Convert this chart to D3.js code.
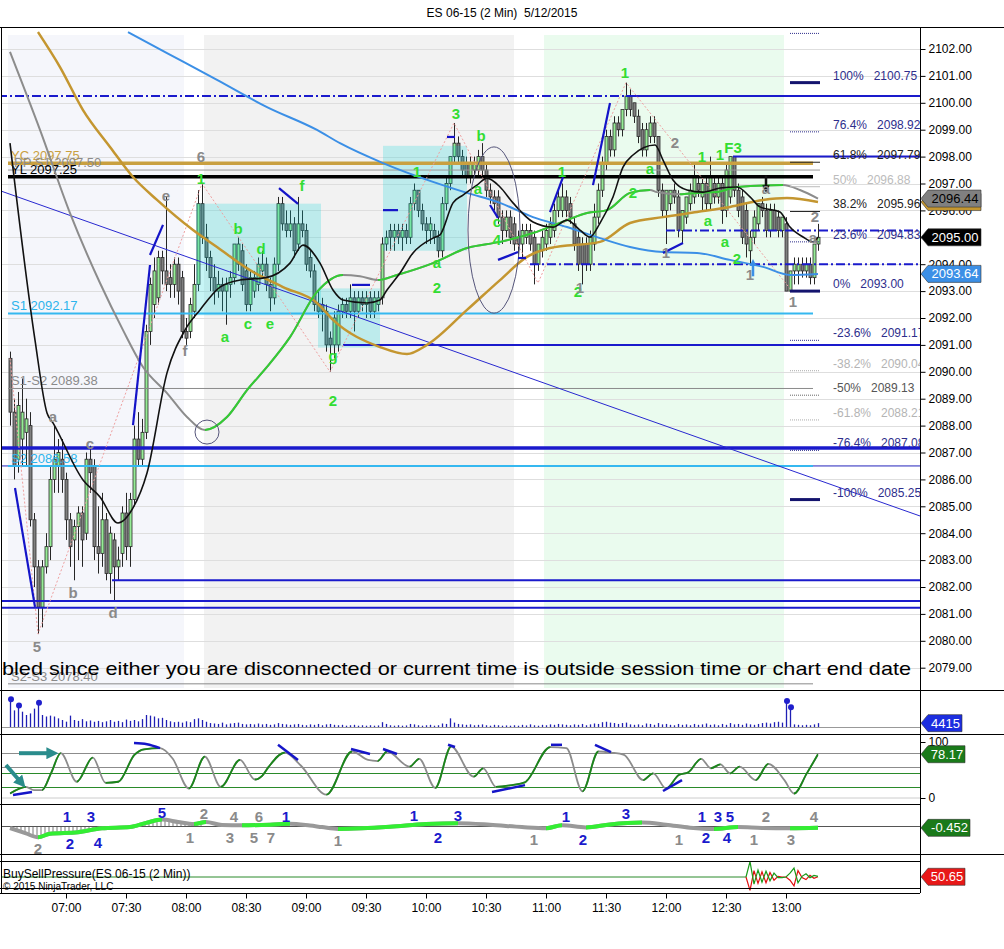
<!DOCTYPE html>
<html>
<head>
<meta charset="utf-8">
<title>ES 06-15 (2 Min) 5/12/2015</title>
<script src="https://cdnjs.cloudflare.com/ajax/libs/d3/7.8.5/d3.min.js"></script>
<style>
  body { margin: 0; background: #fff; }
  svg { display: block; font-family: "Liberation Sans", Arial, sans-serif; }
</style>
</head>
<body>
<svg id="chart" width="1004" height="949"></svg>
<script>
// ---------------- data ----------------
const firstBar = "06:32";
const lastBar = "13:16";
const timeTicks = ["07:00", "07:30", "08:00", "08:30", "09:00", "09:30", "10:00", "10:30", "11:00", "11:30", "12:00", "12:30", "13:00"];
const priceTicks = [2079, 2080, 2081, 2082, 2083, 2084, 2085, 2086, 2087, 2088, 2089, 2090,
  2091, 2092, 2093, 2094, 2095, 2096, 2097, 2098, 2099, 2100, 2101, 2102];

const opens = [
  2090.5, 2088.5, 2086.75, 2087.5, 2087.75, 2088.0, 2084.5, 2082.75, 2081.25, 2082.75,
  2083.5, 2086.0, 2086.5, 2086.75, 2086.0, 2084.5, 2083.75, 2084.25, 2084.75, 2084.0,
  2086.75, 2086.5, 2083.5, 2083.25, 2084.5, 2082.5, 2083.75, 2082.75, 2083.25, 2084.75,
  2083.5, 2085.25, 2087.5, 2086.75, 2087.75, 2091.5, 2092.5, 2092.75, 2094.25, 2093.75,
  2093.5, 2093.25, 2094.0, 2093.5, 2091.5, 2091.5, 2092.25, 2093.25, 2096.25, 2095.0,
  2094.25, 2093.5, 2093.0, 2093.25, 2093.0, 2093.25, 2093.5, 2094.0, 2094.5, 2093.75,
  2092.5, 2093.0, 2093.25, 2093.75, 2094.0, 2093.25, 2092.75, 2094.0, 2096.25, 2095.5,
  2095.25, 2095.5, 2094.75, 2095.5, 2095.25, 2094.25, 2093.75, 2092.5, 2092.5, 2092.25,
  2091.25, 2091.0, 2091.0, 2092.25, 2092.5, 2092.25, 2092.75, 2092.25, 2092.75, 2092.5,
  2092.75, 2092.25, 2092.5, 2092.75, 2094.75, 2095.25, 2095.0, 2095.25, 2095.0, 2095.25,
  2095.0, 2096.25, 2096.75, 2096.0, 2095.5, 2095.25, 2095.25, 2095.0, 2094.5, 2096.25,
  2097.0, 2098.0, 2098.5, 2098.0, 2097.75, 2097.25, 2097.5, 2097.5, 2098.0, 2097.5,
  2096.75, 2096.5, 2096.5, 2095.75, 2095.25, 2095.75, 2095.5, 2095.0, 2094.75, 2095.0,
  2095.25, 2095.0, 2094.0, 2094.5, 2094.75, 2095.0, 2095.25, 2096.0, 2096.0, 2096.5,
  2096.25, 2095.5, 2095.0, 2094.75, 2094.75, 2094.0, 2094.75, 2095.75, 2096.75, 2097.75,
  2098.75, 2098.25, 2099.25, 2099.0, 2099.75, 2100.25, 2100.0, 2099.5, 2099.0, 2098.25,
  2098.75, 2099.25, 2098.75, 2096.75, 2096.0, 2096.25, 2096.75, 2096.5, 2095.25, 2095.75,
  2096.25, 2096.5, 2097.0, 2096.5, 2097.0, 2096.25, 2097.0, 2096.5, 2097.0, 2096.0,
  2096.5, 2098.0, 2096.75, 2096.5, 2096.0, 2094.5, 2095.0, 2095.5, 2096.25, 2096.0,
  2095.25, 2096.0, 2095.75, 2095.25, 2095.5, 2093.0, 2093.75, 2093.75, 2094.0, 2093.75,
  2094.0, 2093.5, 2094.75
];
const highs = [
  2090.75, 2089.0, 2089.25, 2089.75, 2089.0, 2088.5, 2084.75, 2083.0, 2083.0, 2084.0,
  2086.5, 2088.0, 2087.5, 2087.5, 2086.25, 2084.75, 2084.5, 2085.0, 2085.0, 2087.0,
  2087.25, 2086.75, 2085.0, 2085.5, 2084.75, 2084.25, 2084.0, 2083.5, 2085.0, 2085.5,
  2085.5, 2088.0, 2088.5, 2088.25, 2091.75, 2093.5, 2094.25, 2094.5, 2094.5, 2096.5,
  2094.0, 2094.25, 2094.25, 2093.75, 2092.0, 2092.75, 2094.0, 2096.75, 2097.0, 2095.5,
  2094.5, 2094.0, 2093.75, 2093.5, 2093.5, 2093.75, 2094.75, 2095.0, 2094.75, 2094.0,
  2093.75, 2093.75, 2094.25, 2094.5, 2094.25, 2093.5, 2094.25, 2096.5, 2096.5, 2096.0,
  2096.0, 2095.75, 2096.5, 2096.0, 2095.5, 2094.5, 2094.0, 2093.0, 2092.75, 2092.5,
  2091.5, 2092.25, 2092.5, 2092.75, 2092.75, 2093.25, 2093.0, 2093.0, 2093.0, 2093.0,
  2093.0, 2093.0, 2093.0, 2095.0, 2095.25, 2095.5, 2095.5, 2095.5, 2095.5, 2095.5,
  2096.5, 2097.0, 2096.75, 2096.25, 2095.75, 2095.75, 2095.5, 2095.25, 2096.5, 2097.25,
  2098.0, 2099.25, 2098.75, 2098.25, 2098.0, 2098.0, 2098.0, 2098.25, 2098.5, 2097.75,
  2097.0, 2096.75, 2096.75, 2096.0, 2096.0, 2096.0, 2095.75, 2095.25, 2095.5, 2095.5,
  2095.5, 2095.25, 2094.75, 2095.25, 2095.5, 2095.75, 2096.25, 2096.75, 2097.0, 2096.75,
  2096.5, 2095.75, 2095.25, 2095.0, 2095.0, 2095.25, 2096.25, 2097.0, 2098.0, 2099.0,
  2099.0, 2099.5, 2099.5, 2099.75, 2100.75, 2100.5, 2100.0, 2099.75, 2099.25, 2099.25,
  2099.5, 2099.5, 2098.75, 2097.0, 2096.75, 2096.75, 2097.0, 2096.75, 2096.0, 2096.5,
  2097.0, 2097.75, 2097.25, 2097.25, 2097.25, 2098.0, 2097.25, 2097.25, 2097.25, 2097.75,
  2098.0, 2098.0, 2097.0, 2096.75, 2096.25, 2095.25, 2096.0, 2096.25, 2096.5, 2096.25,
  2096.25, 2096.25, 2096.0, 2095.75, 2095.75, 2093.75, 2094.25, 2094.25, 2094.25, 2094.25,
  2094.25, 2094.75, 2095.5
];
const lows = [
  2088.0, 2086.0, 2086.25, 2086.5, 2086.5, 2084.25, 2082.0, 2080.25, 2080.5, 2082.5,
  2083.0, 2085.5, 2085.5, 2085.5, 2083.75, 2082.75, 2082.25, 2083.0, 2082.75, 2083.75,
  2085.5, 2083.0, 2082.5, 2082.75, 2082.25, 2081.75, 2081.5, 2082.25, 2082.75, 2083.0,
  2082.75, 2085.0, 2086.5, 2086.5, 2087.5, 2091.0, 2092.0, 2092.5, 2093.25, 2093.0,
  2092.75, 2092.75, 2092.5, 2091.25, 2091.0, 2091.25, 2092.0, 2093.0, 2094.75, 2093.75,
  2093.0, 2092.5, 2092.75, 2092.25, 2091.75, 2092.75, 2093.25, 2093.75, 2093.0, 2092.25,
  2092.25, 2092.75, 2093.0, 2093.5, 2093.0, 2092.25, 2092.5, 2093.75, 2095.25, 2095.0,
  2095.0, 2094.25, 2094.5, 2095.0, 2093.75, 2093.5, 2092.25, 2092.0, 2091.5, 2090.75,
  2090.0, 2090.5, 2090.75, 2092.0, 2092.0, 2092.0, 2091.5, 2092.0, 2092.25, 2092.0,
  2092.0, 2092.0, 2092.25, 2092.5, 2094.5, 2094.5, 2094.5, 2094.75, 2094.5, 2094.75,
  2094.75, 2096.0, 2095.75, 2095.25, 2094.75, 2094.75, 2094.75, 2094.25, 2094.25, 2096.0,
  2096.75, 2097.75, 2097.75, 2097.25, 2097.0, 2097.0, 2097.25, 2097.25, 2097.25, 2096.5,
  2096.25, 2096.0, 2095.5, 2094.75, 2095.0, 2094.75, 2094.5, 2094.25, 2094.25, 2094.75,
  2094.5, 2093.25, 2093.75, 2094.25, 2094.5, 2094.75, 2095.0, 2095.75, 2095.75, 2095.75,
  2095.5, 2094.5, 2093.75, 2093.25, 2093.75, 2093.75, 2094.5, 2095.5, 2096.5, 2097.5,
  2098.0, 2098.0, 2098.75, 2098.75, 2099.5, 2099.5, 2099.25, 2098.5, 2098.0, 2098.0,
  2098.5, 2098.5, 2096.5, 2095.75, 2094.75, 2096.0, 2096.25, 2095.0, 2094.75, 2095.5,
  2096.0, 2096.25, 2096.5, 2096.0, 2096.0, 2096.0, 2096.25, 2096.25, 2095.5, 2095.75,
  2096.25, 2096.5, 2095.75, 2094.75, 2094.25, 2094.0, 2094.75, 2095.25, 2095.75, 2095.0,
  2095.0, 2095.25, 2095.0, 2095.0, 2093.0, 2093.0, 2093.25, 2093.25, 2093.5, 2093.5,
  2093.25, 2093.25, 2094.5
];
const closes = [
  2088.5, 2086.5, 2088.75, 2088.5, 2088.25, 2084.5, 2082.75, 2081.25, 2082.75, 2083.5,
  2086.0, 2086.75, 2087.0, 2086.0, 2084.5, 2083.5, 2084.25, 2084.75, 2083.75, 2086.75,
  2086.25, 2083.5, 2083.25, 2084.5, 2082.5, 2084.0, 2082.75, 2083.0, 2084.75, 2083.5,
  2085.25, 2087.5, 2086.75, 2087.75, 2091.5, 2093.25, 2093.75, 2094.25, 2093.75, 2093.25,
  2093.25, 2094.0, 2093.0, 2091.5, 2091.25, 2092.5, 2093.25, 2096.25, 2095.0, 2094.25,
  2093.5, 2093.0, 2093.25, 2093.0, 2093.25, 2093.5, 2094.75, 2094.75, 2093.25, 2092.5,
  2093.5, 2093.5, 2094.0, 2094.0, 2093.25, 2092.75, 2094.0, 2096.25, 2095.5, 2095.25,
  2095.5, 2094.5, 2095.5, 2095.25, 2094.0, 2093.75, 2092.5, 2092.25, 2092.25, 2091.0,
  2091.0, 2092.0, 2092.25, 2092.5, 2092.25, 2092.75, 2092.25, 2092.75, 2092.5, 2092.75,
  2092.25, 2092.75, 2092.75, 2094.75, 2095.0, 2095.0, 2095.25, 2095.0, 2095.25, 2095.0,
  2096.25, 2096.75, 2096.0, 2095.5, 2095.25, 2095.5, 2095.0, 2094.5, 2096.25, 2097.0,
  2098.0, 2098.5, 2098.0, 2097.5, 2097.25, 2097.75, 2097.75, 2098.0, 2097.5, 2096.75,
  2096.5, 2096.25, 2095.75, 2095.25, 2095.75, 2095.0, 2094.75, 2094.75, 2095.25, 2095.25,
  2094.75, 2094.0, 2094.75, 2095.0, 2095.25, 2095.5, 2096.0, 2096.5, 2096.5, 2096.0,
  2095.75, 2094.75, 2094.0, 2094.0, 2094.0, 2095.0, 2095.75, 2096.75, 2097.75, 2098.75,
  2098.25, 2099.25, 2099.0, 2099.75, 2100.25, 2099.75, 2099.5, 2098.75, 2098.25, 2099.0,
  2099.25, 2098.75, 2096.75, 2096.0, 2096.75, 2096.75, 2096.5, 2095.25, 2096.0, 2096.5,
  2096.75, 2097.25, 2096.75, 2097.0, 2096.25, 2097.25, 2096.5, 2097.0, 2096.0, 2097.5,
  2098.0, 2096.75, 2096.0, 2095.0, 2094.75, 2095.0, 2095.75, 2096.25, 2096.0, 2095.25,
  2096.0, 2095.25, 2095.25, 2095.75, 2093.0, 2093.75, 2094.0, 2094.0, 2093.75, 2094.0,
  2093.5, 2094.75, 2095.0
];
const volumes = [
  34000, 19000, 27000, 17500, 13700, 15500, 21000, 30000, 13700, 12000,
  13000, 12000, 9900, 8000, 6100, 13000, 8000, 7000, 9000, 6500,
  7500, 6000, 7000, 5500, 6500, 8000, 6000, 7000, 5500, 8500,
  7000, 8000, 6500, 9000, 13700, 13000, 12000, 9900, 10500, 8000,
  6500, 5500, 6000, 5000, 6500, 5500, 9000, 9900, 8000, 6000,
  4500, 4000, 3500, 5000, 3000, 4000, 4500, 5000, 3500, 3000,
  3500, 3000, 4000, 3000, 3500, 2500, 3000, 4500, 3500, 3000,
  2500, 3000, 3500, 2500, 2000, 3000, 2500, 3500, 2000, 3000,
  3500, 2500, 2000, 2500, 1500, 2000, 2500, 1500, 2000, 1500,
  2000, 1500, 1800, 5500, 3500, 2000, 1500, 2000, 1500, 1800,
  3500, 3000, 2000, 1500, 2000, 2500, 1500, 2000, 4000, 3500,
  9900, 5000, 3500, 3000, 2500, 3000, 2000, 2500, 3000, 2000,
  1500, 2500, 2000, 1500, 1800, 1500, 2000, 1500, 2500, 1800,
  3000, 2000, 1500, 2500, 2000, 3000, 2500, 3500, 3000, 2500,
  2000, 3000, 2500, 3500, 2000, 3000, 4000, 3500, 5500, 6000,
  5000, 4500, 3500, 4500, 5000, 3000, 2500, 3000, 2000, 4000,
  3500, 2500, 4500, 3000, 3500, 2500, 2000, 3500, 2500, 3000,
  2000, 3500, 2500, 3000, 4000, 2500, 3000, 2000, 3500, 2500,
  4500, 3000, 3500, 2500, 4000, 3000, 2500, 3500, 4500, 5000,
  4000, 5500, 6000, 5000, 32000, 25000, 3000, 2500, 2000, 2500,
  2000, 3000, 4415
];

// moving averages, read as [bar, price]
const fastMa = [[0, 2098.5], [6.25, 2091.18], [9.25, 2088.47], [10.75, 2088.1], [18.25, 2085.98], [22.5, 2085.35],
  [27, 2084.38], [30.75, 2084.94], [34.25, 2086.24], [39.25, 2089.96], [43.75, 2091.55], [47.5, 2092.3],
  [52.5, 2093.15], [57.5, 2093.41], [64, 2093.5], [70, 2094.04], [73.25, 2094.71], [77.5, 2094.04],
  [80.75, 2093.04], [83.25, 2092.67], [89.25, 2092.56], [92.5, 2092.67], [94.25, 2093.04], [97.5, 2093.67],
  [100.75, 2094.42], [105.75, 2094.97], [107.5, 2095.09], [110.75, 2096.28], [113.25, 2096.57], [116.75, 2096.94],
  [119.25, 2097.2], [122.5, 2096.87], [125.75, 2096.28], [130.75, 2095.57], [135.75, 2095.38], [139.25, 2095.64],
  [142.5, 2095.27], [145, 2095.01], [147.5, 2095.53], [150.75, 2096.5], [153.25, 2097.61], [155.75, 2098.06],
  [161.25, 2098.43], [163.25, 2097.87], [165.75, 2097.13], [169.25, 2096.76], [173.25, 2096.68], [177.5, 2096.83],
  [181.75, 2096.87], [185, 2096.5], [187.5, 2096.13], [192.5, 2095.94], [195, 2095.38], [198.25, 2095.01],
  [200.75, 2094.83], [202, 2095.0]];
const trendMa = [[0, 2101.89], [7.5, 2098.99], [15, 2095.9], [22.5, 2093.3], [28.25, 2091.55], [33.25, 2090.18],
  [39.25, 2089.21], [44.25, 2088.32], [48.75, 2087.84], [54.25, 2088.32], [59.25, 2089.32], [64.25, 2090.18],
  [70, 2091.29], [76.75, 2092.97], [83.25, 2093.6], [87.5, 2093.55], [92, 2093.41], [96.75, 2093.6],
  [105.75, 2094.04], [114.25, 2094.6], [122.5, 2094.83], [130.75, 2095.16], [139.25, 2095.64], [144.25, 2095.9],
  [149.25, 2096.01], [155, 2096.65], [160, 2096.76], [161.75, 2096.68], [167.5, 2096.6], [171.75, 2096.65],
  [176.75, 2096.68], [181.75, 2096.87], [193.25, 2096.94], [197.5, 2096.76], [202, 2096.44]];
const goldMa = [[7, 2102.63], [12.5, 2101.33], [18.25, 2099.73], [25, 2098.36], [30.75, 2097.24], [36.75, 2096.39],
  [45.75, 2095.27], [51.75, 2094.64], [60, 2093.78], [68.25, 2093.15], [76.75, 2092.56], [80.75, 2091.93],
  [92.5, 2090.92], [99.25, 2090.66], [104.25, 2091.0], [114.25, 2092.3], [122.5, 2093.41], [129.25, 2094.27],
  [135, 2094.6], [147.5, 2094.83], [155, 2095.53], [163.25, 2095.75], [171.75, 2095.94], [180, 2096.13],
  [188.25, 2096.39], [194.25, 2096.46], [202, 2096.31]];
const blueMa = [[29.5, 2102.63], [39.25, 2101.85], [51.75, 2100.85], [64.25, 2099.84], [76.75, 2098.99], [82.5, 2098.5],
  [93.25, 2097.76], [105.75, 2097.06], [114.25, 2096.65], [122.5, 2096.28], [130.75, 2095.75], [139.25, 2095.38],
  [147.5, 2094.97], [155, 2094.64], [163.25, 2094.45], [171.75, 2094.42], [180, 2094.16], [188.25, 2093.9],
  [195, 2093.6], [202, 2093.64]];

// horizontal levels: price and [fromBar, toBar]
const levelPrices = [2100.25, 2100.25, 2098.0, 2097.75, 2097.5, 2097.25, 2095.25, 2094.0, 2092.17, 2091.0,
  2089.38, 2087.17, 2086.5, 2086.5, 2082.25, 2081.48, 2081.23, 2078.4];
const levelSpans = [[-3, 228], [154, 228], [180.75, 228], [-0.5, 200.75], [-0.5, 202.5], [-0.5, 200.75], [164, 228],
  [130, 228], [-0.5, 200.75], [83.25, 228], [-0.5, 200.75], [-3, 228], [-3, 228], [-0.5, 200.75], [25.5, 228],
  [-3, 228], [-3, 228], [-0.5, 200.75]];
const levelKinds = ["dashdot", "blue", "blue", "gold", "pp", "black", "dashdot", "dashdot", "cyan", "blue",
  "grey", "bluethick", "bluethin", "cyan", "blue", "blue", "blue", "grey"];
const leftLabels = ["YC 2097.75", "PP S1 2097.50", "YL 2097.25", "S1 2092.17", "S1-S2 2089.38", "S2 2086.58", "S2-S3 2078.40"];
const leftLabelPrices = [2097.75, 2097.5, 2097.25, 2092.17, 2089.38, 2086.5, 2078.4];
const leftLabelKinds = ["gold", "pp", "black", "cyan", "grey", "cyan", "grey"];

// fibonacci projection (the 123.6% line has its label above the pane)
const fibLabels = ["", "100%", "76.4%", "61.8%", "50%", "38.2%", "23.6%", "0%", "-23.6%", "-38.2%", "-50%", "-61.8%", "-76.4%", "-100%"];
const fibValues = [2102.58, 2100.75, 2098.92, 2097.79, 2096.88, 2095.96, 2094.83, 2093.00, 2091.17, 2090.04, 2089.13, 2088.21, 2087.08, 2085.25];
const fibKinds = ["dot", "thick", "dot", "dark", "light", "dark", "dot", "thick", "dot", "lightdot", "greydot", "lightdot", "dot", "thick"];

const sessionBlocks = [["06:32", "08:00"], ["08:10", "10:45"], ["11:00", "13:00"]];
// boxes [fromBar, toBar, topPrice, bottomPrice]
const boxes = [[46.5, 77.75, 2096.25, 2092.1], [77, 92.5, 2093.1, 2090.9], [93.25, 114.25, 2098.4, 2094.5]];
const ellipse = [121, 2095.27, 6.5, 3.09];
const circleMark = [49.25, 2087.76];
const trendLine = [[-2.25, 2096.72], [227.5, 2084.64]];
const zigzag = [[0, 2090.5], [7, 2080.25], [48, 2097.0], [80, 2090.0], [111, 2099.25], [132, 2093.3], [154, 2100.75], [195.5, 2093.0]];
const blueSegs = [
  [[30.75, 2088.02], [35, 2093.97]], [[35, 2094.34], [38.25, 2095.46]], [[1.25, 2085.68], [6.25, 2081.26]],
  [[67.25, 2096.83], [72, 2096.24]], [[85.5, 2093.23], [90, 2093.23]], [[93.25, 2096.01], [97, 2096.01]],
  [[109.25, 2098.73], [111.25, 2098.73]], [[120, 2096.2], [122, 2095.72]], [[122, 2094.16], [127, 2094.45]],
  [[127, 2094.23], [129, 2094.23]], [[135, 2095.94], [138.25, 2097.24]], [[145.75, 2096.94], [150, 2099.99]],
  [[163.25, 2094.42], [168.25, 2094.79]]];
// wave count labels [text, bar, price, colour]
const waveLabels = [
  ["e", 39, 2096.57, "g"], ["6", 47.75, 2097.99, "g"], ["1", 47.75, 2097.2, "l"], ["f", 43.75, 2090.81, "g"],
  ["a", 10.75, 2088.32, "g"], ["c", 20, 2087.32, "g"], ["b", 15.75, 2081.81, "g"], ["d", 25.75, 2081.07, "g"],
  ["5", 6.75, 2079.77, "g"], ["a", 53.75, 2091.33, "l"], ["b", 57, 2095.31, "l"], ["c", 59.5, 2091.81, "l"],
  ["d", 62.75, 2094.57, "l"], ["e", 65, 2091.81, "l"], ["f", 73, 2096.91, "l"], ["g", 80.75, 2090.59, "l"],
  ["2", 80.75, 2088.95, "l"], ["1", 101.75, 2097.43, "l"], ["a", 106.75, 2094.08, "l"], ["2", 106.75, 2093.15, "l"],
  ["3", 111.5, 2099.62, "l"], ["b", 117.75, 2098.8, "l"], ["a", 117, 2096.83, "l"], ["c", 121.75, 2095.57, "l"],
  ["4", 121.75, 2094.9, "l"], ["1", 138, 2097.43, "l"], ["2", 142, 2092.97, "l"], ["1", 142.5, 2093.12, "g"],
  ["1", 153.75, 2101.11, "l"], ["2", 155.75, 2096.65, "l"], ["a", 160, 2097.54, "l"], ["2", 166.25, 2098.54, "g"],
  ["1", 173, 2097.99, "l"], ["1", 177.5, 2098.06, "l"], ["F3", 180.75, 2098.32, "l"], ["a", 174.5, 2095.61, "l"],
  ["a", 178.75, 2094.86, "l"], ["2", 181.75, 2094.23, "l"], ["1", 164, 2094.42, "g"], ["1", 185, 2093.6, "g"],
  ["1", 195.75, 2092.6, "g"], ["2", 201.25, 2095.79, "g"], ["a", 200.75, 2095.01, "g"], ["a", 189, 2096.8, "g"]];
const priceTags = [2096.31, 2096.44, 2095.00, 2093.64];

// stochastic [bar, value]
const stochPts = [[0, 8], [4, 20], [6, 14], [8, 14], [10.3, 45], [12.7, 80], [16.7, 29], [20.7, 72], [23.9, 27],
  [27.1, 29], [31.1, 77], [33.5, 87], [37.5, 89], [40.7, 70], [44.7, 17], [48.7, 74], [52.7, 20], [57.5, 68],
  [61.2, 33], [63.1, 40], [64.7, 56], [68.7, 81], [72.7, 58], [79.1, 6], [85.5, 83], [89.5, 68], [91.9, 66],
  [94.3, 83], [99.9, 56], [102.3, 70], [106.3, 18], [110.3, 92], [115.9, 38], [118.3, 53], [121.5, 20],
  [125.5, 23], [128.7, 28], [135.1, 91], [139.1, 89], [143.1, 12], [147.1, 83], [150.3, 81], [153.5, 77],
  [158.3, 32], [160.8, 44], [164, 17], [167.2, 41], [169.6, 46], [172.8, 70], [175.2, 53], [177.6, 60],
  [180, 44], [182.4, 56], [186.4, 32], [189.6, 61], [193.6, 32], [196, 8], [199.2, 44], [202, 78.17]];
const stochLevels = [80, 55, 45, 20];
const stochMarks = [[[0.75, 5.4], [5.5, 10.7]], [[31, 98], [34.25, 96], [37.5, 89]], [[67, 95], [72, 68]],
  [[85.25, 87.5], [90, 78.6]], [[93.25, 87.5], [96.75, 78.6]], [[109.5, 95], [111.25, 91]], [[120.5, 10.7], [128.75, 23]],
  [[135.25, 95], [138, 95]], [[146.25, 95], [150.25, 82]], [[163.25, 12.5], [168, 32]]];
const tealArrows = [[[2.25, 80], [10, 80]], [[-1, 59], [2.5, 30]]];

// momentum oscillator [bar, value]
const oscPts = [[0, -0.5], [4, -2.3], [7, -3.6], [10, -2.4], [17, -1.9], [23, -0.6], [30, -0.2], [34, 1.2], [38, 2.3],
  [42, 1.5], [46, 0.8], [49, 1.5], [53, 0.5], [58, 0.4], [65, 0.6], [70, 0.9], [75, 0.3], [78, -0.2], [82, -0.8],
  [88, -0.6], [95, -0.1], [104, 0.8], [112, 1.1], [120, 0.6], [128, -0.2], [134, -0.6], [138, 0.4], [144, -0.3],
  [150, 0.7], [158, 1.3], [164, 0.6], [170, -0.4], [176, -0.8], [182, -0.2], [188, -0.5], [195, -0.6], [202, -0.452]];
const oscLabels = [
  ["1", 14.25, 3.2, "b"], ["3", 20.25, 3.2, "b"], ["2", 15, -5.5, "b"], ["4", 22, -5.2, "b"], ["5", 38, 4.8, "b"],
  ["2", 48.5, 4.5, "g"], ["4", 56, 3.2, "g"], ["6", 62.25, 3.2, "g"], ["1", 45, -3.8, "g"], ["3", 55, -3.8, "g"],
  ["5", 61, -3.8, "g"], ["7", 65.25, -3.8, "g"], ["1", 69, 3.5, "b"], ["1", 82, -4.5, "g"], ["1", 101, 3.8, "b"],
  ["3", 112, 3.8, "b"], ["2", 107, -3.5, "b"], ["1", 131, -4.2, "g"], ["1", 139, 3.2, "b"], ["2", 143.25, -4.2, "b"],
  ["3", 154, 4.2, "b"], ["1", 173, 3.2, "b"], ["3", 177, 3.2, "b"], ["5", 180, 3.2, "b"], ["2", 174, -3.8, "b"],
  ["4", 179.25, -3.8, "b"], ["1", 167.25, -4.2, "g"], ["1", 186, -4.2, "g"], ["2", 189, 3.2, "g"],
  ["3", 195.25, -4.2, "g"], ["4", 201, 3.2, "g"], ["2", 7, -7.2, "g"]];

// buy/sell pressure [bar, value]
const bspBuy = [[184, 50], [185, 98], [186, 28], [187, 72], [188, 34], [189, 68], [190, 38], [191, 62], [192, 48],
  [193, 48], [194, 50], [195, 62], [196, 78], [197, 32], [198, 52], [199, 60], [200, 48], [201, 55], [202, 52]];
const bspSell = [[184, 50], [185, 8], [186, 70], [187, 30], [188, 66], [189, 32], [190, 64], [191, 40], [192, 52],
  [193, 50], [194, 50], [195, 40], [196, 22], [197, 70], [198, 48], [199, 42], [200, 55], [201, 46], [202, 50.65]];

// ---------------- layout ----------------
const svg = d3.select("#chart");
const plotLeft = 1, plotRight = 920;
const pane = { priceTop: 27, priceBottom: 688, volTop: 690, volBottom: 734, stochTop: 734, stochBottom: 804,
  oscTop: 804, oscBottom: 854, bspTop: 861, bspBottom: 888, axisTop: 893 };
const font = "'Liberation Sans', Arial, sans-serif";

const x = d3.scaleLinear().domain([0, 202]).range([10, 818]);
const y = d3.scaleLinear().domain([2079, 2102]).range([667.7, 49]);
const parseT = d3.timeParse("%H:%M");
const xTime = d3.scaleTime().domain([parseT(firstBar), parseT(lastBar)]).range([x(0), x(202)]);
const volY = d3.scaleLinear().domain([0, 40000]).range([727, 692]);
const stochY = d3.scaleLinear().domain([0, 100]).range([798, 742]);
const oscY = d3.scaleLinear().domain([-8, 8]).range([850.5, 802.5]);
const bspY = d3.scaleLinear().domain([0, 100]).range([893, 861]);

const defs = svg.append("defs");
function clipRect(id, x0, y0, x1, y1) {
  defs.append("clipPath").attr("id", id).append("rect")
    .attr("x", x0).attr("y", y0).attr("width", x1 - x0).attr("height", y1 - y0);
}
clipRect("clipPrice", plotLeft, pane.priceTop, plotRight, pane.priceBottom);
clipRect("clipStoch", plotLeft, pane.stochTop, plotRight, pane.stochBottom);
clipRect("clipOsc", plotLeft, pane.oscTop + 1, plotRight, pane.oscBottom);
clipRect("clipHatch", plotLeft, pane.oscTop, x(48), pane.oscBottom);

const hatch = defs.append("pattern").attr("id", "hatch").attr("patternUnits", "userSpaceOnUse")
  .attr("width", 4).attr("height", 10);
hatch.append("rect").attr("width", 4).attr("height", 10).attr("fill", "#fff");
hatch.append("line").attr("x1", 1).attr("x2", 1).attr("y1", 0).attr("y2", 10).attr("stroke", "#777").attr("stroke-width", 1);

function arrowMarker(id, color) {
  defs.append("marker").attr("id", id).attr("viewBox", "0 0 10 10").attr("refX", 3).attr("refY", 5)
    .attr("markerWidth", 3).attr("markerHeight", 3).attr("orient", "auto")
    .append("path").attr("d", "M0,0L10,5L0,10Z").attr("fill", color);
}
arrowMarker("headTeal", "#2a8c8c");
arrowMarker("headBlack", "#111");
arrowMarker("headBlue", "#3b8fe6");

// slope coloured line: grey where falling, coloured where rising
let clipCount = 0;
function slopeLine(g, pts, xs, ys, upColor, downColor, width, curve) {
  const gen = d3.line().x(d => xs(d[0])).y(d => ys(d[1])).curve(curve || d3.curveMonotoneX);
  g.append("path").attr("d", gen(pts)).attr("fill", "none").attr("stroke", downColor).attr("stroke-width", width);
  const id = "slope" + (clipCount++);
  const cp = defs.append("clipPath").attr("id", id);
  d3.pairs(pts).forEach(([a, b]) => {
    if (b[1] > a[1]) cp.append("rect").attr("x", xs(a[0])).attr("y", 0).attr("width", xs(b[0]) - xs(a[0])).attr("height", 949);
  });
  g.append("path").attr("d", gen(pts)).attr("fill", "none").attr("stroke", upColor).attr("stroke-width", width)
    .attr("clip-path", `url(#${id})`);
}

// ---------------- title ----------------
svg.append("text").attr("x", 502).attr("y", 17).attr("text-anchor", "middle")
  .style("font-size", "12px").style("font-family", font).text("ES 06-15 (2 Min)  5/12/2015")
  .attr("xml:space", "preserve");

// ---------------- price pane ----------------
const priceG = svg.append("g").attr("clip-path", "url(#clipPrice)");
const sessionFill = ["#f5f6fb", "#f2f2f2", "#eafbee"];
priceG.selectAll("rect.session").data(sessionBlocks).join("rect").attr("class", "session")
  .attr("x", d => xTime(parseT(d[0])) - 2).attr("width", d => xTime(parseT(d[1])) - xTime(parseT(d[0])))
  .attr("y", 35).attr("height", pane.priceBottom - 35)
  .attr("fill", (d, k) => sessionFill[k]);

priceG.selectAll("line.grid").data(priceTicks).join("line").attr("class", "grid")
  .attr("x1", plotLeft).attr("x2", plotRight).attr("y1", d => Math.round(y(d)) + 0.5).attr("y2", d => Math.round(y(d)) + 0.5)
  .attr("stroke", "#dedede").attr("stroke-width", 1);

// candles
const bars = opens.map((o, i) => ({ i, o, h: highs[i], l: lows[i], c: closes[i] }));
const candleG = priceG.append("g").attr("transform", "translate(0.5,0)");
candleG.selectAll("line").data(bars).join("line")
  .attr("x1", d => x(d.i)).attr("x2", d => x(d.i)).attr("y1", d => y(d.h)).attr("y2", d => y(d.l))
  .attr("stroke", "#262626").attr("stroke-width", 1);
candleG.selectAll("rect").data(bars).join("rect")
  .attr("x", d => x(d.i) - 1.5).attr("width", 3)
  .attr("y", d => y(Math.max(d.o, d.c))).attr("height", d => Math.max(1, Math.abs(y(d.o) - y(d.c))))
  .attr("fill", d => d.c > d.o ? "#96ec96" : "#808080").attr("stroke", "#2a2a2a").attr("stroke-width", 0.8);

// translucent cyan boxes
priceG.selectAll("rect.box").data(boxes).join("rect").attr("class", "box")
  .attr("x", d => x(d[0])).attr("width", d => x(d[1]) - x(d[0]))
  .attr("y", d => y(d[2])).attr("height", d => y(d[3]) - y(d[2]))
  .attr("fill", "#00d2d8").attr("fill-opacity", 0.22);

// horizontal levels
const levelStyle = {
  dashdot: { c: "#1a1acc", w: 2, dash: "9,3,2,3" }, blue: { c: "#1a1acc", w: 2 }, bluethick: { c: "#1a1acc", w: 3.5 },
  bluethin: { c: "#2222bb", w: 1 }, gold: { c: "#c9a040", w: 3.5 }, pp: { c: "#9a9a9a", w: 1 },
  black: { c: "#000", w: 3.5 }, cyan: { c: "#35b8f0", w: 2 }, grey: { c: "#8a8a8a", w: 1 }
};
levelPrices.forEach((p, k) => {
  const s = levelStyle[levelKinds[k]];
  priceG.append("line").attr("x1", x(levelSpans[k][0])).attr("x2", x(levelSpans[k][1]))
    .attr("y1", y(p)).attr("y2", y(p)).attr("stroke", s.c).attr("stroke-width", s.w)
    .attr("stroke-dasharray", s.dash || null);
});
const labelColor = { gold: "#c9a040", pp: "#8c8c8c", black: "#000", cyan: "#2cb4ec", grey: "#8a8a8a" };
leftLabels.forEach((t, k) => {
  priceG.append("text").attr("x", k === 1 ? 14 : 11).attr("y", y(leftLabelPrices[k]) - 3)
    .style("font-size", "13px").style("font-family", font).attr("fill", labelColor[leftLabelKinds[k]]).text(t);
});

// trend line and zigzag
priceG.append("line").attr("x1", x(trendLine[0][0])).attr("y1", y(trendLine[0][1]))
  .attr("x2", x(trendLine[1][0])).attr("y2", y(trendLine[1][1])).attr("stroke", "#2828d0").attr("stroke-width", 1);
priceG.append("path").attr("d", d3.line().x(d => x(d[0])).y(d => y(d[1]))(zigzag))
  .attr("fill", "none").attr("stroke", "#eea0a0").attr("stroke-width", 1).attr("stroke-dasharray", "2,2");

// moving averages
const maLine = d3.line().x(d => x(d[0])).y(d => y(d[1])).curve(d3.curveMonotoneX);
priceG.append("path").attr("d", maLine(goldMa)).attr("fill", "none").attr("stroke", "#c49630").attr("stroke-width", 2.5);
priceG.append("path").attr("d", maLine(blueMa)).attr("fill", "none").attr("stroke", "#3b8fe6").attr("stroke-width", 2);
slopeLine(priceG, trendMa, x, y, "#33cc33", "#8c8c8c", 2);
priceG.append("path").attr("d", maLine(fastMa)).attr("fill", "none").attr("stroke", "#111").attr("stroke-width", 1.6);

// drawings
priceG.append("ellipse").attr("cx", x(ellipse[0])).attr("cy", y(ellipse[1]))
  .attr("rx", x(ellipse[0] + ellipse[2]) - x(ellipse[0])).attr("ry", y(ellipse[1] - ellipse[3]) - y(ellipse[1]))
  .attr("fill", "none").attr("stroke", "#55557a").attr("stroke-width", 1);
priceG.append("circle").attr("cx", x(circleMark[0])).attr("cy", y(circleMark[1])).attr("r", 12)
  .attr("fill", "none").attr("stroke", "#55557a").attr("stroke-width", 1);
priceG.selectAll("line.seg").data(blueSegs).join("line").attr("class", "seg")
  .attr("x1", d => x(d[0][0])).attr("y1", d => y(d[0][1])).attr("x2", d => x(d[1][0])).attr("y2", d => y(d[1][1]))
  .attr("stroke", "#1414c8").attr("stroke-width", 2.2);
priceG.append("line").attr("x1", x(189)).attr("x2", x(189)).attr("y1", y(2097.3)).attr("y2", y(2096.85))
  .attr("stroke", "#111").attr("stroke-width", 2.5).attr("marker-end", "url(#headBlack)");
priceG.append("line").attr("x1", x(185.75)).attr("x2", x(185.75)).attr("y1", y(2093.55)).attr("y2", y(2094.0))
  .attr("stroke", "#3b8fe6").attr("stroke-width", 2.5).attr("marker-end", "url(#headBlue)");

// fibonacci levels at the right
const fibStyle = {
  thick: { c: "#14146e", w: 3, t: "#2e2e8c" }, dot: { c: "#2e2e8c", w: 1, dash: "1,1", t: "#2e2e8c" },
  dark: { c: "#222", w: 1, t: "#222" }, light: { c: "#bbb", w: 1, t: "#bcbcbc" },
  lightdot: { c: "#aaa", w: 1, dash: "1,1", t: "#b4b4b4" }, greydot: { c: "#666", w: 1, dash: "1,1", t: "#555" }
};
fibValues.forEach((v, k) => {
  const s = fibStyle[fibKinds[k]];
  priceG.append("line").attr("x1", x(195)).attr("x2", x(202.5)).attr("y1", y(v)).attr("y2", y(v))
    .attr("stroke", s.c).attr("stroke-width", s.w).attr("stroke-dasharray", s.dash || null);
  if (!fibLabels[k]) return;
  priceG.append("text").attr("x", 833).attr("y", y(v) - 3).attr("xml:space", "preserve")
    .style("white-space", "pre").style("font-size", "12px").style("font-family", font).attr("fill", s.t)
    .text(fibLabels[k] + "   " + v.toFixed(2));
});

// wave labels
const waveColor = { g: "#8a8a8a", l: "#33dd33" };
priceG.selectAll("text.wave").data(waveLabels).join("text").attr("class", "wave")
  .attr("x", d => x(d[1])).attr("y", d => y(d[2])).attr("text-anchor", "middle").attr("dominant-baseline", "central")
  .style("font-size", "15px").style("font-weight", "bold").style("font-family", font)
  .attr("fill", d => waveColor[d[3]]).text(d => d[0]);

// status message
priceG.append("text").attr("x", 2).attr("y", 675).attr("textLength", 909).attr("lengthAdjust", "spacingAndGlyphs")
  .style("font-size", "19px").style("font-family", font).attr("fill", "#000")
  .text("bled since either you are disconnected or current time is outside session time or chart end date");

// ---------------- volume pane ----------------
const volG = svg.append("g");
volG.append("line").attr("x1", plotLeft).attr("x2", plotRight).attr("y1", 727.5).attr("y2", 727.5).attr("stroke", "#999");
volG.selectAll("line.vol").data(volumes).join("line").attr("class", "vol")
  .attr("x1", (d, i) => x(i) + 0.5).attr("x2", (d, i) => x(i) + 0.5).attr("y1", volY(0)).attr("y2", d => volY(d))
  .attr("stroke", "#1f1fb4").attr("stroke-width", 1.3);
volG.selectAll("circle").data(volumes.map((v, i) => [i, v]).filter(d => d[1] > 24000)).join("circle")
  .attr("cx", d => x(d[0]) + 1).attr("cy", d => volY(d[1]) + 2).attr("r", 3).attr("fill", "#1f1fcc");

// ---------------- stochastic pane ----------------
const stG = svg.append("g").attr("clip-path", "url(#clipStoch)");
stG.append("line").attr("x1", plotLeft).attr("x2", plotRight).attr("y1", stochY(0)).attr("y2", stochY(0)).attr("stroke", "#ccc");
const stochLevelColor = ["#8c8c8c", "#8c8c8c", "#2a8a2a", "#2a8a2a"];
stochLevels.forEach((v, k) => {
  stG.append("line").attr("x1", plotLeft).attr("x2", plotRight).attr("y1", Math.round(stochY(v)) + 0.5)
    .attr("y2", Math.round(stochY(v)) + 0.5).attr("stroke", stochLevelColor[k]).attr("stroke-width", 1);
});
slopeLine(stG, stochPts, x, stochY, "#1a861a", "#8c8c8c", 1.8);
const stochLine = d3.line().x(d => x(d[0])).y(d => stochY(d[1])).curve(d3.curveMonotoneX);
stochMarks.forEach(m => stG.append("path").attr("d", stochLine(m)).attr("fill", "none")
  .attr("stroke", "#1515c8").attr("stroke-width", 2.5));
tealArrows.forEach(a => stG.append("line").attr("x1", x(a[0][0])).attr("y1", stochY(a[0][1]))
  .attr("x2", x(a[1][0])).attr("y2", stochY(a[1][1])).attr("stroke", "#2a8c8c").attr("stroke-width", 4)
  .attr("marker-end", "url(#headTeal)"));

// ---------------- oscillator pane ----------------
const oscG = svg.append("g").attr("clip-path", "url(#clipOsc)");
const oscArea = d3.area().x(d => x(d[0])).y0(oscY(0)).y1(d => oscY(d[1])).curve(d3.curveMonotoneX);
oscG.append("path").attr("d", oscArea(oscPts)).attr("fill", "url(#hatch)").attr("clip-path", "url(#clipHatch)");
oscG.append("path").attr("d", d3.line().x(d => x(d[0])).y(d => oscY(d[1])).curve(d3.curveMonotoneX)(oscPts))
  .attr("fill", "none").attr("stroke", "#666").attr("stroke-width", 1).attr("clip-path", "url(#clipHatch)");
oscG.append("line").attr("x1", plotLeft).attr("x2", plotRight).attr("y1", oscY(0)).attr("y2", oscY(0))
  .attr("stroke", "#555").attr("stroke-width", 1);
slopeLine(oscG, oscPts, x, oscY, "#33ee33", "#999", 4);
const oscColor = { b: "#1a1acc", g: "#8a8a8a" };
oscG.selectAll("text").data(oscLabels).join("text")
  .attr("x", d => x(d[1])).attr("y", d => oscY(d[2])).attr("text-anchor", "middle").attr("dominant-baseline", "central")
  .style("font-size", "15px").style("font-weight", "bold").style("font-family", font)
  .attr("fill", d => oscColor[d[3]]).text(d => d[0]);

// ---------------- buy / sell pressure pane ----------------
const bspG = svg.append("g");
bspG.append("line").attr("x1", plotLeft).attr("x2", x(184)).attr("y1", bspY(50)).attr("y2", bspY(50))
  .attr("stroke", "#2a8a2a").attr("stroke-width", 1);
const bspLine = d3.line().x(d => x(d[0])).y(d => bspY(d[1]));
bspG.append("path").attr("d", bspLine(bspSell)).attr("fill", "none").attr("stroke", "#e01010").attr("stroke-width", 1.2);
bspG.append("path").attr("d", bspLine(bspBuy)).attr("fill", "none").attr("stroke", "#1a9a1a").attr("stroke-width", 1.2);
bspG.append("text").attr("x", 3).attr("y", 878).style("font-size", "12px").style("font-family", font)
  .text("BuySellPressure(ES 06-15 (2 Min))");
bspG.append("text").attr("x", 3).attr("y", 890).style("font-size", "10px").style("font-family", font)
  .text("\u00a9 2015 NinjaTrader, LLC");

// ---------------- frames ----------------
const frame = svg.append("g").attr("stroke", "#000").attr("stroke-width", 1);
[pane.priceTop, pane.volTop, pane.stochTop, pane.oscBottom].forEach(v =>
  frame.append("line").attr("x1", 0).attr("x2", 1004).attr("y1", v + 0.5).attr("y2", v + 0.5));
[pane.bspTop, pane.bspBottom, pane.axisTop].forEach(v =>
  frame.append("line").attr("x1", 0).attr("x2", plotRight).attr("y1", v + 0.5).attr("y2", v + 0.5));
frame.append("line").attr("x1", plotLeft + 0.5).attr("x2", plotLeft + 0.5).attr("y1", pane.priceTop).attr("y2", pane.axisTop);
frame.append("line").attr("x1", plotRight + 0.5).attr("x2", plotRight + 0.5).attr("y1", pane.priceTop).attr("y2", pane.axisTop);
frame.append("line").attr("x1", 0).attr("x2", plotRight).attr("y1", pane.oscTop + 0.5).attr("y2", pane.oscTop + 0.5);

// ---------------- axes ----------------
function styleAxis(g) {
  g.select(".domain").remove();
  g.selectAll("text").style("font-size", "12px").style("font-family", font).attr("fill", "#000");
  g.selectAll("line").attr("stroke", "#000");
}
svg.append("g").attr("transform", `translate(${plotRight + 0.5},0)`)
  .call(d3.axisRight(y).tickValues(priceTicks).tickFormat(d3.format(".2f")).tickSize(5).tickPadding(3))
  .call(styleAxis);
svg.append("g").attr("transform", `translate(${plotRight + 0.5},0)`)
  .call(d3.axisRight(stochY).tickValues([0, 100]).tickFormat(d3.format("d")).tickSize(5).tickPadding(3))
  .call(styleAxis);
svg.append("g").attr("transform", `translate(0,${pane.axisTop + 0.5})`)
  .call(d3.axisBottom(xTime).tickValues(timeTicks.map(parseT)).tickFormat(d3.timeFormat("%H:%M")).tickSize(5).tickPadding(5))
  .call(styleAxis);

// ---------------- value tags on the right ----------------
function tag(yc, text, fill, color, w) {
  const g = svg.append("g");
  g.append("path").attr("d", `M${plotRight + 1},${yc}L${plotRight + 8},${yc - 8.5}H${plotRight + 1 + w}V${yc + 8.5}H${plotRight + 8}Z`)
    .attr("fill", fill).attr("stroke", "#333").attr("stroke-width", 0.6);
  g.append("text").attr("x", plotRight + 9 + (w - 8) / 2).attr("y", yc).attr("text-anchor", "middle")
    .attr("dominant-baseline", "central").style("font-size", "13px").style("font-family", font)
    .attr("fill", color).text(text);
}
tag(y(priceTags[0]), priceTags[0].toFixed(2), "#c49630", "#000", 60);
tag(y(priceTags[1]), priceTags[1].toFixed(2), "#808080", "#000", 60);
tag(y(priceTags[2]), priceTags[2].toFixed(2), "#000", "#fff", 60);
tag(y(priceTags[3]), priceTags[3].toFixed(2), "#3b8fe6", "#fff", 60);
tag(volY(volumes[volumes.length - 1]), String(volumes[volumes.length - 1]), "#1c2ee0", "#fff", 41);
tag(stochY(stochPts[stochPts.length - 1][1]), stochPts[stochPts.length - 1][1].toFixed(2), "#1a7a1a", "#fff", 44);
tag(oscY(oscPts[oscPts.length - 1][1]), oscPts[oscPts.length - 1][1].toFixed(3), "#1a7a1a", "#fff", 49);
tag(bspY(bspSell[bspSell.length - 1][1]), bspSell[bspSell.length - 1][1].toFixed(2), "#e81818", "#fff", 44);
</script>
</body>
</html>
